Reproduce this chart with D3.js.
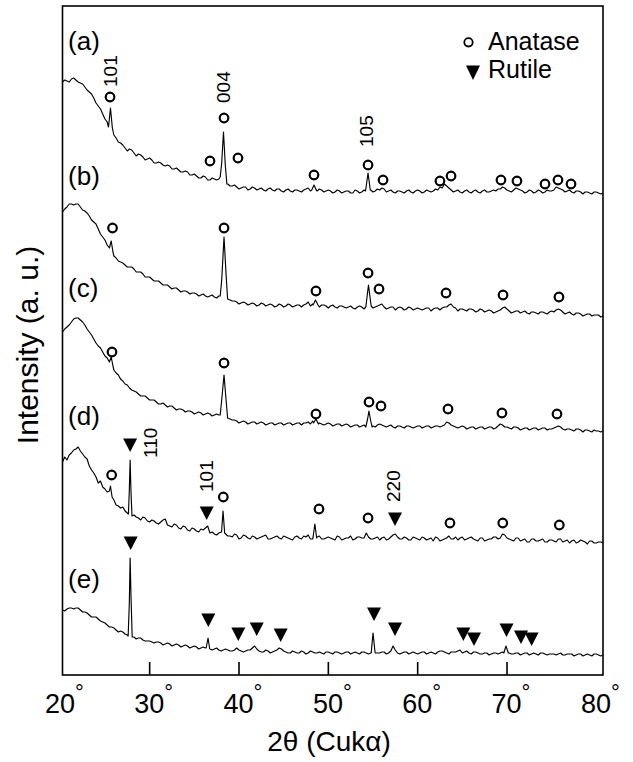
<!DOCTYPE html>
<html>
<head>
<meta charset="utf-8">
<script src="https://cdn.jsdelivr.net/npm/d3@7"></script>
<style>
  html, body { margin: 0; padding: 0; background: #fff; }
  #chart { width: 633px; height: 762px; }
  text { font-family: "Liberation Sans", Arial, Helvetica, sans-serif; fill: #000; }
</style>
</head>
<body>
<div id="chart"></div>
<script>
// 2θ grid (degrees) shared by the five patterns
const twoTheta = [
  20.3, 20.8, 21.3, 21.8, 22.3, 22.8, 23.3, 23.8, 24.3, 24.8,
  25.3, 25.8, 26.3, 26.8, 27.3, 27.8, 28.3, 28.8, 29.3, 29.8,
  30.3, 30.8, 31.3, 31.8, 32.3, 32.8, 33.3, 33.8, 34.3, 34.8,
  35.3, 35.8, 36.3, 36.8, 37.3, 37.8, 38.3, 38.8, 39.3, 39.8,
  40.3, 40.8, 41.3, 41.8, 42.3, 42.8, 43.3, 43.8, 44.3, 44.8,
  45.3, 45.8, 46.3, 46.8, 47.3, 47.8, 48.3, 48.8, 49.3, 49.8,
  50.3, 50.8, 51.3, 51.8, 52.3, 52.8, 53.3, 53.8, 54.3, 54.8,
  55.3, 55.8, 56.3, 56.8, 57.3, 57.8, 58.3, 58.8, 59.3, 59.8,
  60.3, 60.8, 61.3, 61.8, 62.3, 62.8, 63.3, 63.8, 64.3, 64.8,
  65.3, 65.8, 66.3, 66.8, 67.3, 67.8, 68.3, 68.8, 69.3, 69.8,
  70.3, 70.8, 71.3, 71.8, 72.3, 72.8, 73.3, 73.8, 74.3, 74.8,
  75.3, 75.8, 76.3, 76.8, 77.3, 77.8, 78.3, 78.8, 79.3, 79.8,
  80.3, 80.8
];

// stacked intensities (a.u.) on the grid, one array per sample
const intensityA = [
  593, 594, 596, 595, 592, 588, 583, 577, 569, 561,
  553, 547, 537, 532, 527, 526, 522, 521, 518, 516,
  515, 512, 512, 509, 509, 506, 505, 503, 503, 500,
  499, 497, 498, 495, 496, 496, 497, 491, 489, 488,
  487, 488, 486, 487, 486, 485, 486, 485, 486, 484,
  485, 484, 485, 484, 485, 487, 486, 484, 485, 484,
  484, 483, 484, 483, 484, 482, 484, 483, 484, 485,
  484, 485, 486, 484, 483, 484, 483, 484, 483, 484,
  484, 483, 484, 484, 485, 487, 489, 485, 484, 483,
  484, 483, 484, 483, 484, 483, 484, 484, 486, 487,
  484, 485, 486, 484, 483, 484, 483, 484, 483, 484,
  485, 487, 485, 484, 483, 484, 483, 483, 482, 483,
  482, 482
];
const intensityB = [
  463, 468, 471, 471, 468, 464, 459, 453, 446, 438,
  430, 424, 417, 413, 410, 408, 406, 403, 401, 398,
  396, 394, 392, 390, 388, 387, 385, 384, 383, 382,
  381, 380, 379, 379, 378, 379, 400, 376, 374, 373,
  372, 372, 371, 371, 370, 371, 370, 370, 369, 370,
  369, 370, 369, 370, 370, 373, 371, 369, 370, 369,
  369, 368, 369, 368, 368, 367, 368, 368, 368, 368,
  368, 370, 368, 367, 368, 367, 367, 366, 367, 366,
  366, 366, 367, 366, 367, 367, 368, 371, 367, 366,
  365, 366, 365, 364, 365, 364, 364, 363, 365, 368,
  364, 363, 364, 363, 362, 363, 362, 363, 362, 363,
  363, 366, 363, 362, 361, 362, 361, 360, 361, 360,
  360, 359
];
const intensityC = [
  343, 348, 353, 357, 355, 350, 343, 336, 329, 323,
  317, 310, 302, 296, 291, 287, 284, 281, 279, 277,
  275, 273, 271, 270, 269, 267, 266, 265, 264, 263,
  262, 262, 261, 261, 260, 260, 270, 257, 255, 254,
  253, 253, 252, 253, 252, 252, 251, 252, 251, 252,
  251, 252, 251, 252, 252, 253, 254, 252, 251, 251,
  251, 250, 251, 250, 250, 249, 250, 249, 249, 250,
  248, 251, 249, 249, 248, 249, 248, 249, 248, 248,
  249, 248, 249, 248, 249, 249, 253, 250, 248, 248,
  248, 247, 248, 247, 248, 247, 248, 247, 251, 248,
  247, 248, 247, 246, 247, 246, 247, 246, 247, 246,
  247, 249, 246, 246, 245, 246, 245, 245, 244, 245,
  244, 244
];
const intensityD = [
  213, 215, 222, 226, 224, 218, 209, 202, 192, 188,
  183, 178, 170, 167, 164, 161, 160, 157, 158, 154,
  155, 152, 153, 156, 149, 151, 147, 149, 145, 147,
  144, 146, 147, 142, 141, 142, 150, 139, 138, 140,
  137, 139, 136, 138, 137, 139, 136, 137, 139, 136,
  138, 136, 138, 137, 139, 140, 136, 138, 136, 137,
  137, 135, 138, 136, 137, 135, 138, 137, 142, 136,
  137, 135, 138, 136, 140, 138, 136, 137, 135, 137,
  135, 137, 136, 134, 137, 135, 137, 136, 138, 137,
  135, 137, 136, 134, 137, 135, 136, 138, 137, 140,
  136, 134, 137, 135, 133, 136, 134, 135, 133, 135,
  134, 136, 133, 135, 134, 132, 135, 133, 134, 132,
  133, 132
];
const intensityE = [
  65, 66, 67, 67, 65, 63, 60, 58, 56, 53,
  50, 48, 45, 44, 41, 40, 38, 37, 35, 34,
  33, 33, 32, 31, 31, 30, 30, 29, 29, 28,
  28, 27, 27, 26, 26, 25, 25, 25, 24, 27,
  24, 24, 25, 29, 24, 23, 24, 23, 25, 26,
  23, 22, 23, 22, 23, 22, 23, 22, 22, 23,
  22, 23, 22, 22, 23, 22, 22, 23, 22, 22,
  22, 22, 23, 22, 29, 22, 22, 23, 22, 22,
  22, 23, 22, 22, 23, 24, 22, 23, 23, 25,
  23, 22, 23, 22, 21, 22, 21, 22, 22, 26,
  22, 21, 22, 21, 22, 21, 21, 22, 21, 21,
  21, 21, 20, 21, 21, 20, 21, 20, 20, 21,
  20, 20
];

// readings between grid points (the noise of each trace)
const detailA = [
  [20.55, 595], [21.05, 593], [21.55, 597], [22.05, 593], [22.55, 591], [23.05, 585], [23.55, 581], [24.05, 572],
  [24.55, 566], [25.05, 556], [26.05, 540], [26.55, 533], [27.05, 530], [27.55, 524], [28.05, 525], [28.55, 519],
  [29.05, 520], [29.55, 515], [30.05, 517], [30.55, 512], [31.05, 513], [31.55, 510], [32.05, 510], [32.55, 506],
  [33.05, 507], [33.55, 503], [34.05, 504], [34.55, 500], [35.05, 501], [35.55, 497], [36.05, 499], [36.55, 495],
  [37.05, 497], [37.55, 495], [39.05, 489], [39.55, 490], [40.05, 486], [40.55, 488], [41.05, 485], [41.55, 488],
  [42.05, 485], [42.55, 487], [43.05, 484], [43.55, 487], [44.05, 484], [44.55, 486], [45.05, 483], [45.55, 486],
  [46.05, 483], [46.55, 485], [47.05, 483], [47.55, 486], [48.05, 484], [49.05, 486], [49.55, 483], [50.05, 485],
  [50.55, 482], [51.05, 485], [51.55, 482], [52.05, 484], [52.55, 482], [53.05, 485], [53.55, 482], [54.05, 485],
  [55.05, 483], [55.55, 486], [56.05, 487], [56.55, 483], [57.05, 485], [57.55, 482], [58.05, 484], [58.55, 482],
  [59.05, 485], [59.55, 482], [60.05, 485], [60.55, 482], [61.05, 485], [61.55, 483], [62.05, 486], [62.55, 488],
  [63.05, 491], [63.55, 487], [64.05, 483], [64.55, 485], [65.05, 482], [65.55, 485], [66.05, 482], [66.55, 485],
  [67.05, 482], [67.55, 485], [68.05, 483], [68.55, 485], [69.05, 486], [69.55, 488], [70.05, 485], [70.55, 483],
  [71.05, 487], [71.55, 485], [72.05, 482], [72.55, 485], [73.05, 482], [73.55, 485], [74.05, 482], [74.55, 485],
  [75.05, 484], [75.55, 488], [76.05, 486], [76.55, 483], [77.05, 485], [77.55, 482], [78.05, 484], [78.55, 481],
  [79.05, 483], [79.55, 481], [80.05, 483], [80.55, 481]
];
const detailB = [
  [20.55, 466], [21.05, 471], [21.55, 470], [22.05, 471], [22.55, 465], [23.05, 462], [23.55, 455], [24.05, 451],
  [24.55, 441], [25.05, 435], [26.05, 419], [26.55, 414], [27.05, 412], [27.55, 408], [28.05, 408], [28.55, 403],
  [29.05, 403], [29.55, 398], [30.05, 398], [30.55, 394], [31.05, 394], [31.55, 390], [32.05, 390], [32.55, 386],
  [33.05, 387], [33.55, 383], [34.05, 384], [34.55, 381], [35.05, 382], [35.55, 379], [36.05, 381], [36.55, 378],
  [37.05, 380], [37.55, 377], [39.05, 375], [39.55, 374], [40.05, 371], [40.55, 373], [41.05, 370], [41.55, 372],
  [42.05, 369], [42.55, 372], [43.05, 369], [43.55, 371], [44.05, 368], [44.55, 371], [45.05, 368], [45.55, 371],
  [46.05, 368], [46.55, 370], [47.05, 368], [47.55, 371], [48.05, 369], [49.05, 368], [49.55, 370], [50.05, 367],
  [50.55, 370], [51.05, 367], [51.55, 369], [52.05, 367], [52.55, 369], [53.05, 366], [53.55, 369], [54.05, 366],
  [55.05, 367], [55.55, 369], [56.05, 371], [56.55, 366], [57.05, 368], [57.55, 365], [58.05, 368], [58.55, 365],
  [59.05, 368], [59.55, 365], [60.05, 367], [60.55, 365], [61.05, 367], [61.55, 364], [62.05, 367], [62.55, 365],
  [63.05, 368], [63.55, 370], [64.05, 368], [64.55, 364], [65.05, 366], [65.55, 364], [66.05, 366], [66.55, 363],
  [67.05, 366], [67.55, 363], [68.05, 365], [68.55, 362], [69.05, 364], [69.55, 367], [70.05, 366], [70.55, 362],
  [71.05, 364], [71.55, 362], [72.05, 364], [72.55, 361], [73.05, 363], [73.55, 361], [74.05, 363], [74.55, 361],
  [75.05, 364], [75.55, 365], [76.05, 365], [76.55, 361], [77.05, 363], [77.55, 360], [78.05, 362], [78.55, 359],
  [79.05, 361], [79.55, 359], [80.05, 360], [80.55, 358]
];
const detailC = [
  [20.55, 346], [21.05, 350], [21.55, 356], [22.05, 357], [22.55, 353], [23.05, 346], [23.55, 340], [24.05, 332],
  [24.55, 327], [25.05, 319], [26.05, 305], [26.55, 300], [27.05, 294], [27.55, 290], [28.05, 285], [28.55, 283],
  [29.05, 279], [29.55, 279], [30.05, 275], [30.55, 275], [31.05, 271], [31.55, 272], [32.05, 268], [32.55, 269],
  [33.05, 265], [33.55, 266], [34.05, 263], [34.55, 264], [35.05, 261], [35.55, 263], [36.05, 260], [36.55, 262],
  [37.05, 259], [37.55, 261], [39.05, 256], [39.55, 255], [40.05, 252], [40.55, 254], [41.05, 251], [41.55, 253],
  [42.05, 251], [42.55, 253], [43.05, 250], [43.55, 252], [44.05, 250], [44.55, 252], [45.05, 250], [45.55, 252],
  [46.05, 250], [46.55, 252], [47.05, 250], [47.55, 252], [48.05, 251], [49.05, 252], [49.55, 250], [50.05, 252],
  [50.55, 249], [51.05, 251], [51.55, 249], [52.05, 251], [52.55, 248], [53.05, 250], [53.55, 248], [54.05, 250],
  [55.05, 249], [55.55, 250], [56.05, 250], [56.55, 248], [57.05, 250], [57.55, 247], [58.05, 249], [58.55, 247],
  [59.05, 249], [59.55, 247], [60.05, 249], [60.55, 247], [61.05, 249], [61.55, 247], [62.05, 249], [62.55, 248],
  [63.05, 250], [63.55, 252], [64.05, 249], [64.55, 247], [65.05, 249], [65.55, 246], [66.05, 248], [66.55, 246],
  [67.05, 248], [67.55, 246], [68.05, 248], [68.55, 246], [69.05, 249], [69.55, 250], [70.05, 248], [70.55, 246],
  [71.05, 248], [71.55, 245], [72.05, 247], [72.55, 245], [73.05, 247], [73.55, 245], [74.05, 247], [74.55, 245],
  [75.05, 246], [75.55, 248], [76.05, 248], [76.55, 245], [77.05, 246], [77.55, 244], [78.05, 246], [78.55, 243],
  [79.05, 245], [79.55, 243], [80.05, 244], [80.55, 243]
];
const detailD = [
  [20.55, 218], [21.05, 220], [21.55, 225], [22.05, 228], [22.55, 221], [23.05, 216],
  [23.55, 205], [24.05, 198], [24.55, 194], [25.05, 186], [26.05, 175], [26.55, 169],
  [27.05, 168], [27.55, 162], [28.55, 158], [29.05, 155], [29.55, 157], [30.05, 153],
  [30.55, 154], [31.05, 151], [31.55, 155], [32.05, 150], [32.55, 148], [33.05, 150],
  [33.55, 146], [34.05, 148], [34.55, 144], [35.05, 146], [35.55, 143], [36.05, 145],
  [36.55, 149], [37.05, 143], [37.55, 140], [39.05, 139], [39.55, 141], [40.05, 136],
  [40.55, 140], [41.05, 137], [41.55, 139], [42.05, 136], [42.55, 138], [43.05, 140],
  [43.55, 136], [44.05, 138], [44.55, 137], [45.05, 139], [45.55, 137], [46.05, 135],
  [46.55, 139], [47.05, 136], [47.55, 138], [48.05, 136], [49.05, 139], [49.55, 136],
  [50.05, 138], [50.55, 136], [51.05, 139], [51.55, 135], [52.05, 137], [52.55, 139],
  [53.05, 136], [53.55, 138], [54.05, 137], [54.55, 138], [55.05, 136], [55.55, 138],
  [56.05, 137], [56.55, 135], [57.05, 138], [57.55, 141], [58.05, 136], [58.55, 138],
  [59.05, 135], [59.55, 138], [60.05, 136], [60.55, 138], [61.05, 135], [61.55, 137],
  [62.05, 138], [62.55, 134], [63.05, 136], [63.55, 139], [64.05, 136], [64.55, 135],
  [65.05, 138], [65.55, 136], [66.05, 138], [66.55, 135], [67.05, 137], [67.55, 134],
  [68.05, 136], [68.55, 138], [69.05, 136], [69.55, 141], [70.05, 137], [70.55, 135],
  [71.05, 137], [71.55, 134], [72.05, 136], [72.55, 133], [73.05, 136], [73.55, 134],
  [74.05, 136], [74.55, 133], [75.05, 135], [75.55, 133], [76.05, 136], [76.55, 134],
  [77.05, 132], [77.55, 135], [78.05, 133], [78.55, 134], [79.05, 131], [79.55, 134],
  [80.05, 132], [80.55, 133]
];
const detailE = [
  [20.55, 64], [21.05, 67], [21.55, 66], [22.05, 67], [22.55, 63], [23.05, 62], [23.55, 58], [24.05, 58],
  [24.55, 54], [25.05, 52], [25.55, 48], [26.05, 47], [26.55, 43], [27.05, 43], [27.55, 40], [28.55, 36],
  [29.05, 37], [29.55, 34], [30.05, 34], [30.55, 32], [31.05, 33], [31.55, 30], [32.05, 32], [32.55, 29],
  [33.05, 31], [33.55, 28], [34.05, 30], [34.55, 27], [35.05, 29], [35.55, 26], [36.05, 28], [37.05, 25],
  [37.55, 27], [38.05, 24], [38.55, 26], [39.05, 24], [39.55, 25], [40.05, 25], [40.55, 23], [41.05, 25],
  [41.55, 27], [42.05, 26], [42.55, 23], [43.05, 25], [43.55, 22], [44.05, 24], [44.55, 27], [45.05, 24],
  [45.55, 22], [46.05, 24], [46.55, 22], [47.05, 24], [47.55, 21], [48.05, 24], [48.55, 22], [49.05, 23],
  [49.55, 21], [50.05, 23], [50.55, 21], [51.05, 23], [51.55, 21], [52.05, 23], [52.55, 21], [53.05, 23],
  [53.55, 21], [54.05, 23], [54.55, 21], [55.55, 22], [56.05, 23], [56.55, 21], [57.05, 24], [57.55, 25],
  [58.05, 21], [58.55, 23], [59.05, 21], [59.55, 23], [60.05, 21], [60.55, 23], [61.05, 21], [61.55, 23],
  [62.05, 21], [62.55, 24], [63.05, 23], [63.55, 21], [64.05, 23], [64.55, 24], [65.05, 22], [65.55, 24],
  [66.05, 21], [66.55, 23], [67.05, 21], [67.55, 22], [68.05, 20], [68.55, 22], [69.05, 21], [69.55, 23],
  [70.55, 21], [71.05, 22], [71.55, 20], [72.05, 22], [72.55, 20], [73.05, 22], [73.55, 20], [74.05, 22],
  [74.55, 20], [75.05, 21], [75.55, 20], [76.05, 22], [76.55, 20], [77.05, 21], [77.55, 19], [78.05, 21],
  [78.55, 19], [79.05, 21], [79.55, 19], [80.05, 21], [80.55, 19]
];

// sharp reflections, [2θ, I] runs that replace the readings they span
const peaksA = [
  [[25.45, 548], [25.67, 567], [25.88, 547]],
  [[37.95, 498], [38.12, 512], [38.32, 543], [38.52, 510], [38.7, 491]],
  [[48.2, 485], [48.45, 490], [48.7, 485]],
  [[54.22, 484], [54.5, 502], [54.75, 485]]
];
const peaksB = [
  [[25.55, 427], [25.75, 434], [25.95, 423]],
  [[37.95, 379], [38.12, 395], [38.38, 438], [38.6, 402], [38.78, 376]],
  [[48.35, 370], [48.62, 375], [48.9, 370]],
  [[54.25, 368], [54.55, 390], [54.85, 369]]
];
const peaksC = [
  [[25.55, 313], [25.75, 318], [25.95, 309]],
  [[37.95, 260], [38.12, 275], [38.38, 300], [38.6, 276], [38.78, 257]],
  [[48.4, 252], [48.67, 256], [48.95, 251]],
  [[54.25, 248], [54.45, 256], [54.6, 264], [54.78, 255], [54.95, 248]]
];
const peaksD = [
  [[25.55, 184], [25.67, 189], [25.85, 178]],
  [[27.68, 161], [27.78, 185], [27.87, 215], [27.97, 182], [28.08, 159]],
  [[38.1, 143], [38.27, 164], [38.45, 142]],
  [[48.35, 138], [48.55, 151], [48.75, 137]]
];
const peaksE = [
  [[27.65, 39], [27.78, 72], [27.87, 117], [27.98, 75], [28.1, 38]],
  [[36.38, 27], [36.59, 37], [36.78, 26]],
  [[54.85, 22], [55.06, 42], [55.28, 23]],
  [[69.7, 22], [69.94, 29], [70.2, 22]]
];

// phase markers [2θ, I]
const anataseA = [[25.62, 578], [38.38, 557], [36.81, 514], [39.94, 517], [48.45, 500], [54.5, 510], [56.18, 495],
  [62.55, 494], [63.79, 499], [69.38, 495], [71.17, 494], [74.31, 491], [75.76, 495], [77.22, 491]];
const anataseB = [[25.9, 447], [38.38, 447], [48.67, 384], [54.5, 402], [55.73, 386], [63.23, 382], [69.61, 380], [75.87, 378]];
const anataseC = [[25.84, 323], [38.38, 312], [48.67, 261], [54.61, 273], [55.95, 269], [63.45, 266], [69.49, 262], [75.65, 261]];
const anataseD = [[25.8, 200], [38.3, 178], [49.01, 166], [54.5, 157], [63.67, 152], [69.58, 152], [75.91, 150]];
const rutileD = [[27.87, 230], [36.44, 162], [57.52, 156]];
const rutileE = [[27.93, 132], [36.62, 55], [39.98, 41], [42.04, 46], [44.72, 40], [55.17, 61], [57.52, 46],
  [65.17, 41], [66.36, 36], [70.0, 45], [71.62, 38], [72.81, 36]];

// Miller index labels [text, 2θ, I]
const hklLabels = [["101", 26.4, 588], ["004", 39.05, 572], ["105", 55.06, 528],
  ["110", 30.88, 217], ["101", 37.15, 183], ["220", 58.08, 173]];

const sampleNames = ["(a)", "(b)", "(c)", "(d)", "(e)"];
const sampleLabelAt = [[20.92, 625.5], [20.92, 490.5], [20.92, 378.5], [20.92, 250.5], [20.92, 87.5]];

const xTicks = [20, 30, 40, 50, 60, 70, 80];

// ---- build ----
function buildSeries(values, detail, peaks) {
  const inPeak = t => peaks.some(p => t > p[0][0] && t < p[p.length - 1][0]);
  const readings = twoTheta.map((t, i) => [t, values[i]]).concat(detail);
  return readings.filter(d => !inPeak(d[0]))
    .concat(peaks.flat())
    .sort((a, b) => a[0] - b[0]);
}

const patterns = [
  buildSeries(intensityA, detailA, peaksA),
  buildSeries(intensityB, detailB, peaksB),
  buildSeries(intensityC, detailC, peaksC),
  buildSeries(intensityD, detailD, peaksD),
  buildSeries(intensityE, detailE, peaksE)
];
const anatase = [anataseA, anataseB, anataseC, anataseD].flat();
const rutile = [rutileD, rutileE].flat();

const W = 633, H = 762;
const svg = d3.select("#chart").append("svg").attr("width", W).attr("height", H);

const x = d3.scaleLinear().domain([20.3, 80.8]).range([62.5, 603]);
const y = d3.scaleLinear().domain([0, 669]).range([675, 6]);

const line = d3.line().x(d => x(d[0])).y(d => y(d[1]));

svg.append("g").selectAll("path.pattern")
  .data(patterns)
  .join("path")
  .attr("class", "pattern")
  .attr("d", line)
  .attr("fill", "none")
  .attr("stroke", "#000")
  .attr("stroke-width", 1.15)
  .attr("stroke-linejoin", "round");

// markers
svg.append("g").selectAll("circle")
  .data(anatase)
  .join("circle")
  .attr("cx", d => x(d[0])).attr("cy", d => y(d[1]))
  .attr("r", 4.3)
  .attr("fill", "#fff").attr("stroke", "#000").attr("stroke-width", 2.2);

const triPath = "M-7,-6.5L7,-6.5L0,7Z";
svg.append("g").selectAll("path")
  .data(rutile)
  .join("path")
  .attr("d", triPath)
  .attr("transform", d => `translate(${x(d[0])},${y(d[1])})`)
  .attr("fill", "#000");

// hkl labels
svg.append("g").selectAll("text")
  .data(hklLabels)
  .join("text")
  .attr("transform", d => `translate(${x(d[1])},${y(d[2])}) rotate(-90)`)
  .attr("font-size", 19)
  .text(d => d[0]);

// sample names
svg.append("g").selectAll("text")
  .data(sampleNames)
  .join("text")
  .attr("x", (d, i) => x(sampleLabelAt[i][0]))
  .attr("y", (d, i) => y(sampleLabelAt[i][1]))
  .attr("font-size", 26)
  .text(d => d);

// frame
svg.append("rect")
  .attr("x", 62.5).attr("y", 6)
  .attr("width", 540.5).attr("height", 669)
  .attr("fill", "none").attr("stroke", "#000").attr("stroke-width", 1.6);

// x axis (ticks point inward)
const xAxis = d3.axisBottom(x)
  .tickValues(xTicks)
  .tickSizeInner(-13)
  .tickSizeOuter(0)
  .tickPadding(0)
  .tickFormat(d3.format("d"));

const gx = svg.append("g").attr("transform", "translate(0,675)").call(xAxis);
gx.select(".domain").remove();
gx.selectAll(".tick").filter(d => d < 30 || d > 70).select("line").remove();
gx.selectAll(".tick line").attr("stroke", "#000").attr("stroke-width", 1.6);
gx.selectAll(".tick text")
  .attr("x", 4).attr("y", 38).attr("dy", 0)
  .attr("font-size", 27)
  .each(function(d) {
    const t = d3.select(this).text(null);
    t.append("tspan").text(d);
    t.append("tspan").attr("dy", -13).attr("font-size", 22).text("\u00B0");
  });

svg.append("text")
  .attr("x", 329).attr("y", 751)
  .attr("text-anchor", "middle")
  .attr("font-size", 28)
  .text("2\u03B8 (Cuk\u03B1)");

svg.append("text")
  .attr("transform", "translate(38,345) rotate(-90)")
  .attr("text-anchor", "middle")
  .attr("font-size", 30)
  .text("Intensity (a. u.)");

// legend
const legend = svg.append("g");
legend.append("circle").attr("cx", 468.5).attr("cy", 42.3).attr("r", 4.2)
  .attr("fill", "#fff").attr("stroke", "#000").attr("stroke-width", 1.8);
legend.append("text").attr("x", 488).attr("y", 50).attr("font-size", 25).text("Anatase");
legend.append("path").attr("d", "M-7,-7L7,-7L0,7.5Z").attr("transform", "translate(473,72.5)").attr("fill", "#000");
legend.append("text").attr("x", 488).attr("y", 78).attr("font-size", 25).text("Rutile");
</script>
</body>
</html>
